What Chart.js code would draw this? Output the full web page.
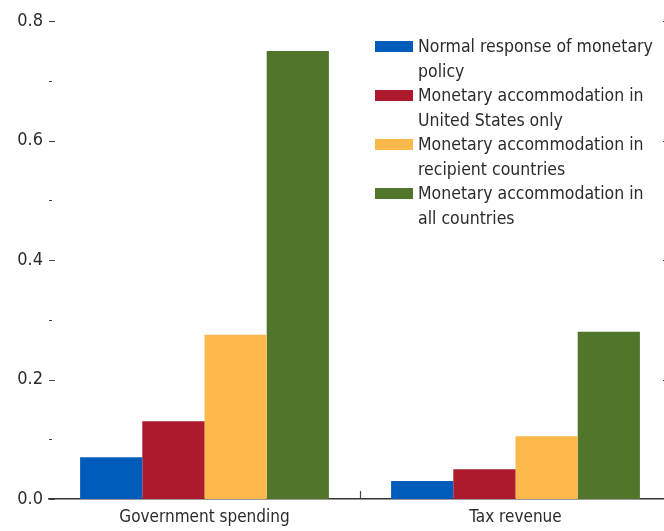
<!DOCTYPE html>
<html>
<head>
<meta charset="utf-8">
<script src="https://cdn.jsdelivr.net/npm/chart.js@4.4.1/dist/chart.umd.min.js"></script>
<style>
    html, body { margin: 0; padding: 0; background: #fff; overflow: hidden; }
    #wrap { position: relative; width: 672px; height: 531px; }
    #legend {
        position: absolute; left: 375px; top: 34px;
        font-family: 'DejaVu Sans Condensed', 'Liberation Sans Narrow', sans-serif;
        font-size: 17.5px; color: #2b2b2b; line-height: 24.5px;
    }
    .item { display: flex; align-items: flex-start; }
    .box { width: 38px; height: 11px; margin: 7px 5px 0 0; flex: none; }
</style>
</head>
<body>
<div id="wrap">
    <canvas id="chart" width="672" height="531"></canvas>
    <div id="legend"></div>
</div>
<script>
// ─── Data ──────────────────────────────────────────────────
const categories = ['Government spending', 'Tax revenue'];
const normalResponse = [0.07, 0.03];
const usOnly = [0.13, 0.05];
const recipientCountries = [0.275, 0.105];
const allCountries = [0.75, 0.28];

const seriesLabels = [
    ['Normal response of monetary', 'policy'],
    ['Monetary accommodation in', 'United States only'],
    ['Monetary accommodation in', 'recipient countries'],
    ['Monetary accommodation in', 'all countries'],
];
const seriesColors = ['#005bbb', '#ad192d', '#fcb94b', '#50752b'];

const majorTicks = [0, 0.2, 0.4, 0.6, 0.8];
const minorTicks = [0.1, 0.3, 0.5, 0.7];

const FONT = "'DejaVu Sans Condensed', 'Liberation Sans Narrow', sans-serif";

// inward tick marks, like the original figure
const tickPlugin = {
    id: 'inwardTicks',
    afterDraw(chart) {
        const { ctx, chartArea } = chart;
        const y = chart.scales.y, x = chart.scales.x;
        ctx.save();
        ctx.strokeStyle = '#444';
        ctx.lineWidth = 1.2;
        ctx.beginPath();
        majorTicks.forEach(v => {
            const py = Math.round(y.getPixelForValue(v)) + 0.5;
            ctx.moveTo(chartArea.left, py); ctx.lineTo(chartArea.left + 6, py);
            if (v > 0) { ctx.moveTo(chartArea.right, py); ctx.lineTo(chartArea.right - 8, py); }
        });
        minorTicks.forEach(v => {
            const py = Math.round(y.getPixelForValue(v)) + 0.5;
            ctx.moveTo(chartArea.left, py); ctx.lineTo(chartArea.left + 3, py);
        });
        // category separator
        const mid = Math.round((x.getPixelForValue(0) + x.getPixelForValue(1)) / 2) + 0.5;
        ctx.moveTo(mid, chartArea.bottom); ctx.lineTo(mid, chartArea.bottom - 8);
        ctx.stroke();
        ctx.restore();
    }
};

const datasets = [normalResponse, usOnly, recipientCountries, allCountries].map((data, i) => ({
    label: seriesLabels[i].join(' '),
    data,
    backgroundColor: seriesColors[i],
    borderWidth: 0,
    categoryPercentage: 0.8,
    barPercentage: 1.0,
}));

new Chart(document.getElementById('chart'), {
    type: 'bar',
    data: { labels: categories, datasets },
    options: {
        responsive: false,
        animation: false,
        layout: { padding: { top: 21, right: 1, left: 0, bottom: 0 } },
        plugins: { legend: { display: false }, tooltip: { enabled: false } },
        scales: {
            x: {
                afterFit: s => { s.height = 32; },
                grid: { display: false, drawTicks: false },
                border: { display: true, color: '#333', width: 1.5 },
                ticks: { color: '#2b2b2b', font: { family: FONT, size: 17 }, padding: 8 },
            },
            y: {
                min: 0, max: 0.8,
                afterFit: s => { s.width = 49; },
                grid: { display: false, drawTicks: false },
                border: { display: false },
                ticks: {
                    stepSize: 0.2, padding: 6, color: '#2b2b2b',
                    font: { family: FONT, size: 18 },
                    callback: v => v.toFixed(1),
                },
            },
        },
    },
    plugins: [tickPlugin],
});

// ─── Legend ────────────────────────────────────────────────
const legend = document.getElementById('legend');
seriesLabels.forEach((lines, i) => {
    const item = document.createElement('div');
    item.className = 'item';
    item.innerHTML = `<div class="box" style="background:${seriesColors[i]}"></div><div>${lines.join('<br>')}</div>`;
    legend.appendChild(item);
});
</script>
</body>
</html>
